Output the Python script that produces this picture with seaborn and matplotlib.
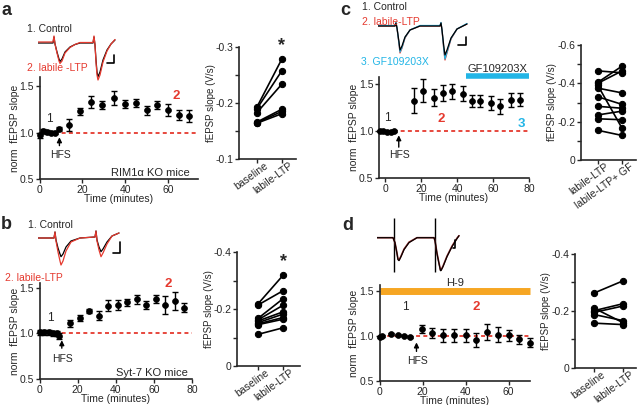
import numpy as np
import pandas as pd
import matplotlib
matplotlib.use("Agg")
import matplotlib.pyplot as plt
import matplotlib.transforms as mtrans
import seaborn as sns

# ---------------- data ----------------
# panel a (RIM1a KO) time course
a_time = [0, 1.8, 3.6, 5.4, 7.2, 9, 14, 19, 24, 29, 35, 40, 45, 50, 55, 60, 65, 70]
a_mean = [0.97, 1.02, 1.01, 1.00, 1.00, 1.04, 1.08, 1.23, 1.33, 1.30, 1.37, 1.31, 1.32, 1.24, 1.30, 1.24, 1.19, 1.18]
a_sem = [0.03, 0.02, 0.02, 0.02, 0.02, 0.02, 0.067, 0.035, 0.06, 0.04, 0.075, 0.04, 0.045, 0.045, 0.045, 0.065, 0.05, 0.06]
a_base = [-0.193, -0.190, -0.183, -0.166, -0.165, -0.164]
a_ltp = [-0.279, -0.258, -0.234, -0.189, -0.185, -0.181]

# panel b (Syt-7 KO) time course
b_time = [0.5, 2.5, 5, 7, 9, 10, 16, 21, 26, 31, 36, 41, 46, 51, 56, 61, 66, 71, 76]
b_mean = [1.01, 1.01, 1.01, 1.00, 1.00, 0.97, 1.11, 1.17, 1.245, 1.19, 1.30, 1.31, 1.34, 1.37, 1.31, 1.375, 1.31, 1.355, 1.28]
b_sem = [0.03, 0.03, 0.03, 0.03, 0.03, 0.03, 0.04, 0.035, 0.02, 0.05, 0.06, 0.05, 0.04, 0.05, 0.04, 0.045, 0.1, 0.1, 0.05]
b_base = [-0.218, -0.214, -0.167, -0.162, -0.158, -0.152, -0.148, -0.145, -0.111]
b_ltp = [-0.318, -0.264, -0.236, -0.213, -0.190, -0.182, -0.170, -0.164, -0.134]

# panel c (GF109203X) time course
c_time = [-3, -1, 1, 3, 5, 16, 21, 27, 32, 37, 43, 48, 53, 59, 64, 70, 75]
c_mean = [1.00, 1.005, 0.995, 0.995, 1.00, 1.326, 1.435, 1.36, 1.41, 1.43, 1.40, 1.326, 1.326, 1.30, 1.265, 1.337, 1.337]
c_sem = [0.01, 0.01, 0.01, 0.01, 0.01, 0.135, 0.12, 0.095, 0.087, 0.08, 0.08, 0.065, 0.065, 0.075, 0.08, 0.075, 0.07]
c_ltp = [-0.465, -0.405, -0.400, -0.390, -0.375, -0.330, -0.280, -0.235, -0.215, -0.155]
c_gf = [-0.455, -0.490, -0.465, -0.165, -0.350, -0.290, -0.270, -0.255, -0.210, -0.128]
gf_start, gf_end = 45, 80

# panel d (H-9) time course
d_time = [0, 1.3, 5.5, 8.6, 11.3, 14.1, 19.6, 24.6, 29.5, 34.5, 40, 45, 49.8, 54.9, 60, 65, 70.2]
d_mean = [0.99, 1.00, 1.025, 1.01, 1.007, 0.99, 1.08, 1.036, 1.01, 1.01, 1.01, 0.957, 1.047, 1.018, 1.01, 0.964, 0.928]
d_sem = [0.01, 0.01, 0.01, 0.01, 0.01, 0.01, 0.04, 0.06, 0.07, 0.07, 0.07, 0.075, 0.09, 0.08, 0.06, 0.05, 0.05]
d_base = [-0.262, -0.208, -0.200, -0.194, -0.186, -0.156]
d_ltp = [-0.304, -0.158, -0.224, -0.216, -0.165, -0.151]
h9_start, h9_end = 0, 70

# HFS time per panel
hfs_t = {'a': 9.3, 'b': 11.7, 'c': 7.5, 'd': 17.2}

# example fEPSP traces (ms, mV)
ta = [0, 15, 16, 17, 19, 21, 22, 24, 27, 32, 37, 42, 55, 56, 57, 58, 59, 60, 62, 65, 69, 73, 77]
va_ctrl = [0, 0, 0.6, -0.1, -0.9, -1.6, -1.85, -1.6, -0.9, -0.4, -0.15, 0, 0, 0.6, -0.2, -1.7, -2.9, -3.37, -2.9, -1.7, -0.7, -0.1, 0.3]
va_ltp = [0.1, 0.1, 0.7, -0.1, -1.0, -1.8, -2.05, -1.8, -1.0, -0.45, -0.15, 0.05, 0.05, 0.7, -0.2, -1.9, -3.2, -3.7, -3.2, -1.9, -0.8, -0.1, 0.35]

tb = [0, 16, 17, 18, 20, 22, 23, 25, 28, 33, 42, 57, 58, 59, 61, 63, 65, 69, 74, 81]
vb_ctrl = [0, 0, 0.6, -0.2, -1.0, -1.6, -1.87, -1.6, -0.9, -0.3, 0, 0.1, 0.7, -0.2, -0.9, -1.37, -1.1, -0.4, 0.2, 0.5]
vb_ltp = [0, 0, 0.6, -0.3, -1.4, -2.3, -2.7, -2.3, -1.3, -0.4, 0, 0.1, 0.7, -0.3, -1.2, -1.87, -1.5, -0.6, 0.2, 0.5]

tc = [0, 17, 18, 19, 21, 22, 24, 27, 32, 42, 62, 63, 64, 66, 67, 69, 73, 79, 89]
vc_ctrl = [0, 0, 0.3, -0.2, -1.6, -2.4, -2.0, -1.1, -0.4, 0, 0, 0.3, -0.4, -2.2, -2.9, -2.4, -1.2, -0.3, 0.2]
vc_ltp = [0, 0, 0.3, -0.2, -1.8, -2.7, -2.2, -1.2, -0.4, 0, 0, 0.3, -0.4, -2.6, -3.4, -2.7, -1.3, -0.3, 0.2]
vc_gf = [0.05, 0.05, 0.35, -0.2, -1.75, -2.6, -2.15, -1.15, -0.4, 0.05, 0.05, 0.35, -0.4, -2.5, -3.3, -2.6, -1.25, -0.3, 0.25]

td = [0, 16, 18, 20, 21, 22, 24, 27, 32, 40, 57, 58, 60, 62, 63.5, 64, 66, 70, 75, 80, 82]
vd_ctrl = [0, 0, -0.5, -1.6, -2.2, -2.3, -1.9, -1.2, -0.5, 0, 0, -0.3, -1.6, -2.6, -3.3, -3.3, -2.9, -1.9, -0.9, -0.1, 0.2]
vd_ltp = [0, 0, -0.5, -1.55, -2.15, -2.25, -1.85, -1.15, -0.45, 0, 0, -0.3, -1.55, -2.55, -3.25, -3.25, -2.85, -1.85, -0.85, -0.05, 0.2]
d_stim = [17, 58]

# ---------------- style ----------------
RED = '#e5392e'
CYAN = '#22b5e6'
ORANGE = '#f6a623'
sns.set_style("ticks")
plt.rcParams['font.family'] = ['Liberation Sans', 'DejaVu Sans']
plt.rcParams['font.size'] = 7.5
plt.rcParams['axes.unicode_minus'] = False
plt.rcParams['axes.linewidth'] = 1.2
plt.rcParams['xtick.major.width'] = 1.0
plt.rcParams['ytick.major.width'] = 1.0
plt.rcParams['ytick.minor.width'] = 1.0

W, H = 640, 405
fig = plt.figure(figsize=(6.4, 4.05), dpi=100)


def box(l, t, r, b):
    return [l / W, 1 - b / H, (r - l) / W, (b - t) / H]


def ftext(x, y, s, **kw):
    kw.setdefault('va', 'center')
    fig.text(x / W, 1 - y / H, s, **kw)


def timecourse(rect, t, m, e, xlim, ylim, xticks, ylab_x):
    ax = fig.add_axes(rect)
    ax.axhline(1.0, color=RED, ls=(0, (2.2, 1.8)), lw=1.3, zorder=2)
    ax.errorbar(t, m, yerr=e, fmt='none', ecolor='k', elinewidth=1.0,
                capsize=2.2, capthick=1.0, zorder=3, clip_on=False)
    sns.scatterplot(x=t, y=m, ax=ax, color='k', s=18, edgecolor='k',
                    linewidth=0.5, zorder=4, clip_on=False)
    ax.set_xlim(xlim)
    ax.set_ylim(ylim)
    ax.set_xticks(xticks)
    ax.set_yticks([0.5, 1.0, 1.5])
    ax.set_yticklabels(['0.5', '1.0', '1.5'])
    sns.despine(ax=ax)
    ax.tick_params(length=3, pad=1, labelsize=7.5)
    ax.set_xlabel('Time (minutes)', labelpad=-0.3, fontsize=7.5)
    ax.set_ylabel('norm  fEPSP slope', fontsize=7.5)
    ax.yaxis.set_label_coords(ylab_x, 0.5)
    return ax


def hfs(ax, t, tip, tail, ty):
    ax.annotate('', xy=(t, tip), xytext=(t, tail),
                arrowprops=dict(arrowstyle='-|>', color='k', lw=1.0,
                                mutation_scale=7, shrinkA=0, shrinkB=0))
    ax.text(t + 0.5, ty, 'HFS', ha='center', va='center', fontsize=7.5)


def paired(rect, left, right, xlim, ylim, major, majlab, minor, labels, ylab_x):
    n = len(left)
    df = pd.DataFrame({'pair': list(range(n)) * 2,
                       'cond': [0] * n + [1] * n,
                       'slope': list(left) + list(right)})
    ax = fig.add_axes(rect)
    sns.lineplot(data=df, x='cond', y='slope', units='pair', estimator=None,
                 color='k', lw=1.2, marker='o', markersize=4.5,
                 markeredgecolor='k', ax=ax, legend=False, clip_on=False)
    ax.set_xlim(xlim)
    ax.set_ylim(ylim)
    ax.set_yticks(major)
    ax.set_yticklabels(majlab)
    ax.set_yticks(minor, minor=True)
    ax.set_xticks([0, 1])
    sns.despine(ax=ax)
    ax.tick_params(axis='both', which='both', length=3, pad=1, labelsize=7.5)
    ax.set_xticklabels(labels, rotation=36, ha='right', rotation_mode='anchor')
    off = mtrans.ScaledTranslation(7 / 100, 4 / 100, fig.dpi_scale_trans)
    for lab in ax.get_xticklabels():
        lab.set_transform(lab.get_transform() + off)
    ax.set_xlabel('')
    ax.set_ylabel('fEPSP slope (V/s)', fontsize=7)
    ax.yaxis.set_label_coords(ylab_x, 0.5)
    return ax


def trace_axes(x0, base):
    ax = fig.add_axes(box(x0, base - 30, x0 + 100, base + 50))
    ax.set_xlim(0, 100)
    ax.set_ylim(-5, 3)
    ax.axis('off')
    ax.patch.set_alpha(0)
    return ax


def scalebar(ax, xend, ybot, w, h, color='k'):
    ax.plot([xend - w, xend, xend], [ybot, ybot, ybot + h], color=color, lw=1.2)


# ---------------- panel a ----------------
axa = timecourse(box(39.5, 77, 198, 179), a_time, a_mean, a_sem, (0, 74), (0.5, 1.6), [0, 20, 40, 60], -0.126)
axa.text(4.5, 1.15, '1', ha='center', va='center', fontsize=8.5)
axa.text(64, 1.40, '2', ha='center', va='center', fontsize=9.5, color=RED, fontweight='bold')
hfs(axa, hfs_t['a'], 0.95, 0.86, 0.755)
axa.text(70, 0.565, 'RIM1α KO mice', ha='right', va='center', fontsize=8)

pa = paired(box(239, 47, 296, 159), a_base, a_ltp, (-0.72, 1.56), (-0.1, -0.3),
            [-0.3, -0.2, -0.1], ['-0.3', '-0.2', '-0.1'], [-0.25, -0.15], ['baseline', 'labile-LTP'], -0.40)
pa.text(1, -0.302, '*', ha='center', va='center', fontsize=13, fontweight='bold')

tra = trace_axes(38, 43)
tra.plot(ta, va_ctrl, color='k', lw=0.9)
tra.plot(ta, va_ltp, color=RED, lw=0.9)
scalebar(tra, 76, -2.03, 7, 0.85)
ftext(27, 29, '1. Control', fontsize=7.5)
ftext(27, 68, '2. labile -LTP', fontsize=7.5, color=RED)
ftext(1, 2, 'a', fontsize=13, fontweight='bold', va='top')

# ---------------- panel b ----------------
axb = timecourse(box(39.5, 283, 192, 379), b_time, b_mean, b_sem, (0, 80), (0.5, 1.55), [0, 20, 40, 60, 80], -0.131)
axb.text(5.5, 1.17, '1', ha='center', va='center', fontsize=8.5)
axb.text(67.5, 1.54, '2', ha='center', va='center', fontsize=9.5, color=RED, fontweight='bold', clip_on=False)
hfs(axb, hfs_t['b'], 0.924, 0.837, 0.717)
axb.text(78, 0.565, 'Syt-7 KO mice', ha='right', va='center', fontsize=8)

pb = paired(box(237, 252, 300, 366), b_base, b_ltp, (-0.84, 1.68), (0, -0.4),
            [-0.4, -0.2, 0], ['-0.4', '-0.2', '0'], [-0.3, -0.1], ['baseline', 'labile-LTP'], -0.36)
pb.text(1, -0.368, '*', ha='center', va='center', fontsize=13, fontweight='bold')

trb = trace_axes(38, 238)
trb.plot(tb, vb_ctrl, color='k', lw=0.9)
trb.plot(tb, vb_ltp, color=RED, lw=0.9)
scalebar(trb, 82, -1.53, 7, 1.16)
ftext(28, 225, '1. Control', fontsize=7.5)
ftext(5, 278, '2. labile-LTP', fontsize=7.5, color=RED)
ftext(1, 216, 'b', fontsize=13, fontweight='bold', va='top')

# ---------------- panel c ----------------
axc = timecourse(box(379, 77, 529, 178), c_time, c_mean, c_sem, (-3.5, 80), (0.5, 1.58), [0, 20, 40, 60, 80], -0.133)
axc.text(1, 1.14, '1', ha='center', va='center', fontsize=8.5)
axc.text(31, 1.135, '2', ha='center', va='center', fontsize=9.5, color=RED, fontweight='bold')
axc.text(75.5, 1.08, '3', ha='center', va='center', fontsize=9.5, color=CYAN, fontweight='bold')
hfs(axc, hfs_t['c'], 0.957, 0.83, 0.745)
axc.plot([gf_start, gf_end], [1.587, 1.587], color=CYAN, lw=4, solid_capstyle='butt', clip_on=False)
axc.text((gf_start + gf_end) / 2, 1.665, 'GF109203X', ha='center', va='center', fontsize=8, clip_on=False)

pc = paired(box(580.7, 45, 636, 160), c_ltp, c_gf, (-0.70, 1.57), (0, -0.6),
            [-0.6, -0.4, -0.2, 0], ['-0.6', '-0.4', '-0.2', '0'], [-0.5, -0.3, -0.1],
            ['labile-LTP', 'labile-LTP+ GF'], -0.42)

trc = trace_axes(378, 26)
trc.plot(tc, vc_ltp, color=RED, lw=0.9)
trc.plot(tc, vc_gf, color=CYAN, lw=0.9)
trc.plot(tc, vc_ctrl, color='k', lw=0.9)
scalebar(trc, 88, -1.9, 8, 0.85)
ftext(362, 7, '1. Control', fontsize=7.5)
ftext(362, 22, '2. labile-LTP', fontsize=7.5, color=RED)
ftext(361, 62, '3. GF109203X', fontsize=7.5, color=CYAN)
ftext(340, 2, 'c', fontsize=13, fontweight='bold', va='top')

# ---------------- panel d ----------------
axd = timecourse(box(379.5, 285, 530, 381), d_time, d_mean, d_sem, (0, 70), (0.5, 1.57), [0, 20, 40, 60], -0.133)
axd.text(12, 1.32, '1', ha='center', va='center', fontsize=8.5)
axd.text(45, 1.32, '2', ha='center', va='center', fontsize=9.5, color=RED, fontweight='bold')
hfs(axd, hfs_t['d'], 0.93, 0.83, 0.72)
axd.plot([h9_start, h9_end], [1.5, 1.5], color=ORANGE, lw=5, solid_capstyle='butt', clip_on=False, zorder=1)
axd.text(35, 1.595, 'H-9', ha='center', va='center', fontsize=8, clip_on=False)

pdx = paired(box(575, 253.5, 636, 367.7), d_base, d_ltp, (-0.68, 1.46), (0, -0.4),
             [-0.4, -0.2, 0], ['-0.4', '-0.2', '0'], [-0.3, -0.1], ['baseline', 'labile-LTP'], -0.40)

trd = trace_axes(377, 237.7)
trd.vlines(d_stim, -3.43, 1.97, color='k', lw=1.0)
trd.plot(td, vd_ltp, color='#8a2323', lw=1.2)
trd.plot(td, vd_ctrl, color='k', lw=0.8)
scalebar(trd, 78, -1.0, 2.5, 0.77)
ftext(342, 217, 'd', fontsize=13, fontweight='bold', va='top')

fig.savefig('out.png', dpi=100)
